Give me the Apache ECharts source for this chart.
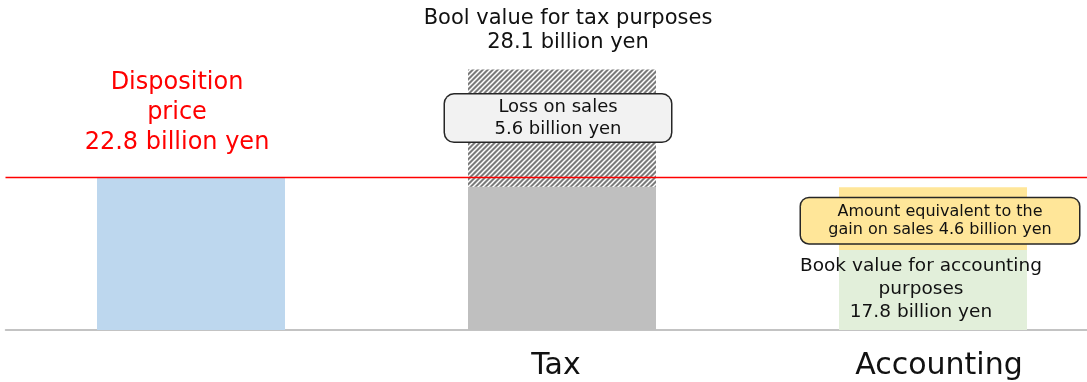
<!DOCTYPE html>
<html>
<head>
<meta charset="utf-8">
<script src="https://cdn.jsdelivr.net/npm/echarts@6/dist/echarts.min.js"></script>
<style>
html,body{margin:0;padding:0;background:#ffffff;overflow:hidden;width:1087px;height:382px;}
#chart{width:1120px;height:382px;}
</style>
</head>
<body>
<div id="chart"></div>
<script>
// ---- data (bar heights as drawn, on the same vertical scale as the 22.8 disposition bar) ----
const categories = ['', 'Tax', 'Accounting'];
const lowerSegment = [22.8, 21.35, 11.92];
const upperSegment = ['-', 17.47, 9.34];
const dispositionPrice = 22.8;
const lowerLabels = ['Disposition\nprice\n22.8 billion yen', '', 'Book value for accounting\npurposes\n17.8 billion yen'];
const upperLabels = ['', 'Loss on sales\n5.6 billion yen', 'Amount equivalent to the\ngain on sales 4.6 billion yen'];
const totalLabels = ['', 'Bool value for tax purposes\n28.1 billion yen', ''];

// hatch pattern tile
function hatchTile() {
  const s = 5;
  const c = document.createElement('canvas');
  c.width = s; c.height = s;
  const g = c.getContext('2d');
  g.fillStyle = '#7a7a7a';
  g.fillRect(0, 0, s, s);
  g.strokeStyle = '#ffffff';
  g.lineWidth = 1.5;
  g.beginPath();
  g.moveTo(0, s); g.lineTo(s, 0);
  g.moveTo(-s, s); g.lineTo(s, -s);
  g.moveTo(0, 2 * s); g.lineTo(2 * s, 0);
  g.stroke();
  return c;
}
const hatch = { image: hatchTile(), repeat: 'repeat' };

const FONT = 'DejaVu Sans';
const chart = echarts.init(document.getElementById('chart'), null, { renderer: 'canvas' });

const lowerColors = ['#bdd7ee', '#bfbfbf', '#e2efda'];
const upperColors = [null, hatch, '#ffe699'];

const lowerLabelStyles = [
  { show: true, position: 'top', distance: 19, offset: [-14, 0], color: '#ff0000', fontSize: 24, lineHeight: 30, fontFamily: FONT, align: 'center' },
  { show: false },
  { show: true, position: 'inside', offset: [-12, -1], color: '#111111', fontSize: 18.5, lineHeight: 23, fontFamily: FONT, align: 'center' }
];
const upperLabelStyles = [
  { show: false },
  { show: true, position: 'inside', offset: [-4, -10], color: '#111111', fontSize: 18, lineHeight: 22, fontFamily: FONT,
    backgroundColor: '#f2f2f2', borderColor: '#262626', borderWidth: 1.5, borderRadius: 9, padding: [1.5, 8], width: 210, align: 'center' },
  { show: true, position: 'inside', offset: [7, 2], color: '#111111', fontSize: 16, lineHeight: 18, fontFamily: FONT,
    backgroundColor: '#ffe699', borderColor: '#262626', borderWidth: 1.5, borderRadius: 8, padding: [4.5, 8], width: 262, align: 'center' }
];

const option = {
  animation: false,
  backgroundColor: '#ffffff',
  grid: { left: 5.5, right: 1.5, top: 28, bottom: 52, containLabel: false },
  xAxis: {
    type: 'category',
    data: categories,
    axisTick: { show: false },
    axisLine: { show: true, lineStyle: { color: '#b0b0b0', width: 1.5 } },
    axisLabel: {
      margin: 21,
      color: '#111111',
      fontSize: 30,
      fontFamily: FONT,
      formatter: function (v) {
        if (v === 'Tax') return '{l|' + v + '}';
        if (v === 'Accounting') return '{r|' + v + '}';
        return v;
      },
      rich: {
        l: { fontSize: 30, fontFamily: FONT, color: '#111111', padding: [0, 12, 0, 0] },
        r: { fontSize: 30, fontFamily: FONT, color: '#111111', padding: [0, 0, 0, 12] }
      }
    },
    splitLine: { show: false }
  },
  yAxis: { type: 'value', min: 0, max: 45, show: false, splitLine: { show: false } },
  series: [
    {
      name: 'lower',
      type: 'bar',
      stack: 'v',
      barWidth: 188,
      data: lowerSegment.map((v, i) => ({
        value: v,
        itemStyle: { color: lowerColors[i] },
        label: Object.assign({ formatter: lowerLabels[i] }, lowerLabelStyles[i])
      })),
      markLine: {
        silent: true,
        symbol: ['none', 'none'],
        label: { show: false },
        lineStyle: { color: '#ff0000', width: 1.3, type: 'solid' },
        data: [{ yAxis: dispositionPrice }]
      }
    },
    {
      name: 'upper',
      type: 'bar',
      stack: 'v',
      barWidth: 188,
      data: upperSegment.map((v, i) => ({
        value: v,
        itemStyle: { color: upperColors[i] || 'transparent' },
        label: Object.assign({ formatter: upperLabels[i] }, upperLabelStyles[i])
      }))
    },
    {
      name: 'total',
      type: 'bar',
      stack: 'v',
      barWidth: 188,
      data: upperSegment.map((v, i) => ({
        value: totalLabels[i] ? 0 : '-',
        itemStyle: { color: 'transparent' },
        label: {
          show: !!totalLabels[i], position: 'top', distance: 14.5, offset: [6, 0],
          formatter: totalLabels[i], color: '#111111', fontSize: 21, lineHeight: 24, fontFamily: FONT, align: 'center'
        }
      }))
    }
  ]
};
chart.setOption(option);
</script>
</body>
</html>
